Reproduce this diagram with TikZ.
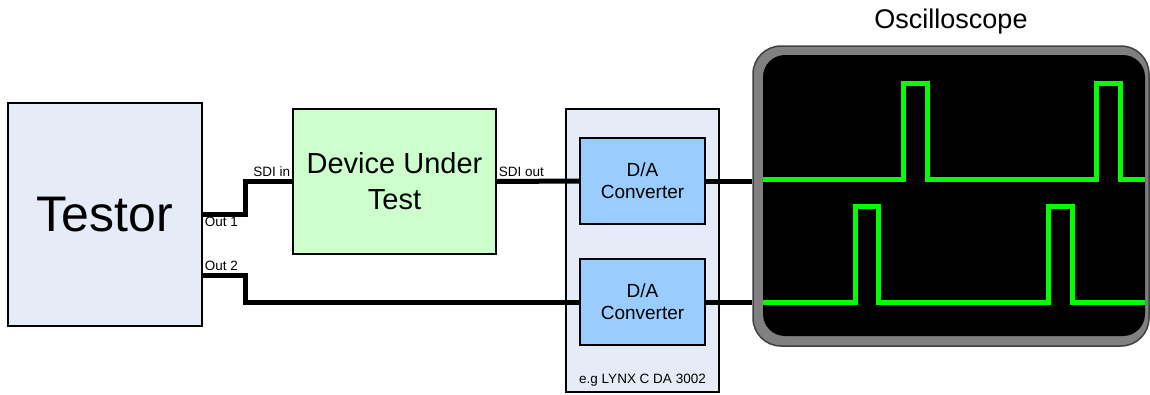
\documentclass[tikz,border=0pt]{standalone}
\usepackage{fontspec}
\setmainfont{Liberation Sans}
\usetikzlibrary{positioning,calc}
\definecolor{panelfill}{HTML}{E6ECF7}
\definecolor{dutfill}{HTML}{CCFFCC}
\definecolor{dafill}{HTML}{99CCFF}
\definecolor{tracegreen}{HTML}{00FF00}
\tikzset{box/.style={draw,line width=1.5pt,align=center,inner sep=0pt},
  panel/.style={box,fill=panelfill},
  dabox/.style={box,fill=dafill,minimum width=125pt,minimum height=86pt,font=\fontsize{19}{22}\selectfont},
  wire/.style={line width=5pt},
  trace/.style={line width=5pt,tracegreen},
  tag/.style={font=\fontsize{13.5}{15}\selectfont,inner sep=2pt}}

\begin{document}
\begin{tikzpicture}[x=1pt,y=-1pt]
\useasboundingbox (0,0) rectangle (1150,394);
% blocks
\node[panel,minimum width=194pt,minimum height=223pt,font=\fontsize{50}{60}\selectfont] (testor) at (105,214.5) {Testor};
\node[box,fill=dutfill,minimum width=203pt,minimum height=145pt,font=\fontsize{29}{36}\selectfont] (dut) at (394.5,181.5) {Device Under\\Test};
\node[panel,minimum width=153pt,minimum height=283pt] (lynx) at (642.5,250.5) {};
\node[tag,above=4pt of lynx.south] (lynxlbl) {e.g LYNX C DA 3002};
\node[dabox] (da1) at (642.5,181) {D/A\\Converter};
\node[dabox] (da2) at (642.5,302) {D/A\\Converter};
% oscilloscope
\node[draw=black!75,line width=1.5pt,fill=gray,rounded corners=28pt,minimum width=396pt,minimum height=300pt] (scope) at (951,196) {};
\node[fill=black,rounded corners=22pt,minimum width=382pt,minimum height=281pt] (screen) at (954,195.5) {};
\node[font=\fontsize{27}{30}\selectfont,above=8pt of scope.north] (scopelbl) {Oscilloscope};
% wiring
\draw[wire] (testor.east) -- ++(43,0) |- (dut.west);
\draw[wire] ([yshift=-60.5pt]testor.east) coordinate (out2) -- ++(43,0) |- (da2.west);
\draw[wire] (dut.east) -- (da1.west);
\draw[wire] (da1.east) -- (scope.west |- da1.east);
\draw[wire] (da2.east) -- (scope.west |- da2.east);
\node[tag,anchor=north west] at (testor.east) {Out 1};
\node[tag,anchor=south west] at ([yshift=2pt]out2) {Out 2};
\node[tag,anchor=south east] at ([yshift=3pt]dut.west) {SDI in};
\node[tag,anchor=south west] at ([yshift=3pt]dut.east) {SDI out};
% traces
\draw[trace] (screen.west |- 0,179) -- (903,179) -- (903,83) -- (927,83) -- (927,179) -- (1096,179) -- (1096,83) -- (1120,83) -- (1120,179) -- (screen.east |- 0,179);
\draw[trace] (screen.west |- 0,302) -- (855,302) -- (855,206) -- (878,206) -- (878,302) -- (1048,302) -- (1048,206) -- (1072,206) -- (1072,302) -- (screen.east |- 0,302);
\end{tikzpicture}
\end{document}
